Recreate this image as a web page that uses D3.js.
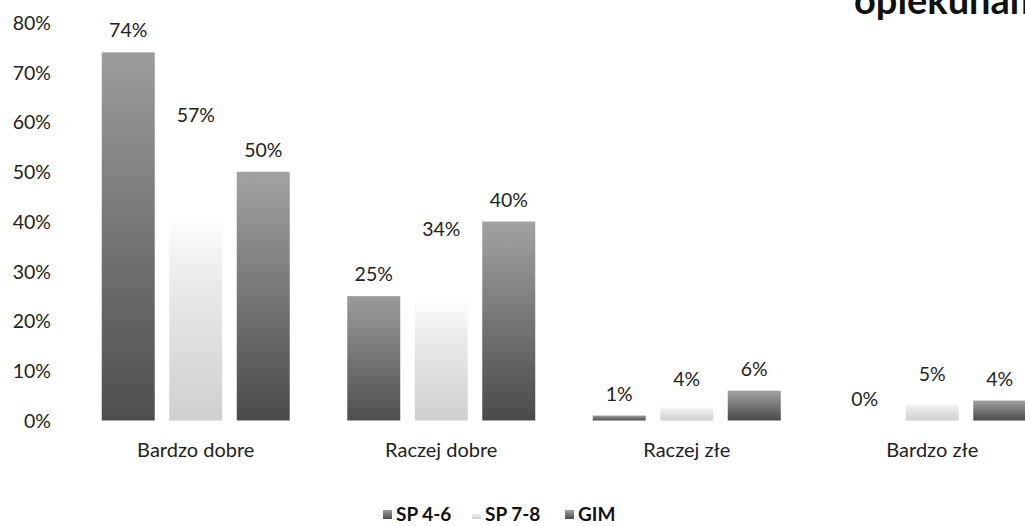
<!DOCTYPE html>
<html><head><meta charset="utf-8">
<script src="https://cdn.jsdelivr.net/npm/d3@7"></script>
<style>html,body{margin:0;padding:0;background:#fff;overflow:hidden}svg{display:block}</style>
</head><body>
<script>
const categories = ["Bardzo dobre", "Raczej dobre", "Raczej złe", "Bardzo złe"];
const seriesNames = ["SP 4-6", "SP 7-8", "GIM"];
const sp46 = [74, 25, 1, 0];
const sp78 = [57, 34, 4, 5];
const gim = [50, 40, 6, 4];
const yTicks = [0, 10, 20, 30, 40, 50, 60, 70, 80];
const titleText = "opiekunami";

const W = 1025, H = 526;
const svg = d3.select("body").append("svg").attr("width", W).attr("height", H);
const defs = svg.append("defs");
const gradDefs = [
  {id: "g0", stops: [[0, "#4e4e4e"], [1, "#9c9c9c"]]},
  {id: "g1", stops: [[0, "#cfcfcf"], [0.5, "#ebebeb"], [0.72, "#ffffff"], [1, "#ffffff"]]},
  {id: "g2", stops: [[0, "#4a4a4a"], [1, "#a2a2a2"]]}
];
gradDefs.forEach(g => {
  const lg = defs.append("linearGradient").attr("id", g.id)
    .attr("x1", 0).attr("y1", 1).attr("x2", 0).attr("y2", 0);
  g.stops.forEach(s => lg.append("stop").attr("offset", s[0]).attr("stop-color", s[1]));
});

const font = "Lato, 'Open Sans', sans-serif";
const x0 = d3.scaleBand().domain(categories).range([73, 1055]).padding(0);
const x1 = d3.scaleBand().domain(seriesNames).range([0, x0.bandwidth()])
  .paddingInner(0.215).paddingOuter(0.426);
const y = d3.scaleLinear().domain([0, 80]).range([420.5, 22.5]);

// y axis labels
const yAxis = d3.axisLeft(y).tickValues(yTicks).tickFormat(d => d + "%").tickSize(0).tickPadding(0);
const ya = svg.append("g").attr("transform", "translate(51,0)").call(yAxis);
ya.select(".domain").remove();
ya.selectAll("text").attr("font-family", font).attr("font-size", 19.5).attr("fill", "#222").attr("dy", "0.35em");

// x axis labels
const xAxis = d3.axisBottom(x0).tickSize(0).tickPadding(0);
const xa = svg.append("g").attr("transform", "translate(0,457)").call(xAxis);
xa.select(".domain").remove();
xa.selectAll("text").attr("font-family", font).attr("font-size", 20).attr("fill", "#222").attr("dy", "0");

const series = [sp46, sp78, gim];
const data = [];
categories.forEach((c, i) => seriesNames.forEach((s, j) => data.push({c, s, j, v: series[j][i]})));

svg.append("g").selectAll("rect").data(data).join("rect")
  .attr("x", d => x0(d.c) + x1(d.s))
  .attr("width", x1.bandwidth())
  .attr("y", d => y(d.v))
  .attr("height", d => y(0) - y(d.v))
  .attr("fill", d => `url(#g${d.j})`);

svg.append("g").selectAll("text").data(data).join("text")
  .attr("x", d => x0(d.c) + x1(d.s) + x1.bandwidth() / 2)
  .attr("y", d => y(d.v) - 15)
  .attr("text-anchor", "middle")
  .attr("font-family", font).attr("font-size", 19.5).attr("fill", "#222")
  .text(d => d.v + "%");

// title (cut off at right edge)
svg.append("text").attr("x", 854).attr("y", 14)
  .attr("font-family", font).attr("font-weight", "bold").attr("font-size", 38).attr("fill", "#111")
  .text(titleText);

// legend
const legendX = [396, 485, 578];
const lg = svg.append("g");
seriesNames.forEach((s, j) => {
  lg.append("rect").attr("x", legendX[j] - 13).attr("y", 510).attr("width", 9).attr("height", 9)
    .attr("fill", `url(#g${j})`);
  lg.append("text").attr("x", legendX[j]).attr("y", 521)
    .attr("font-family", font).attr("font-weight", "bold").attr("font-size", 19).attr("fill", "#111")
    .text(s);
});
</script>
</body></html>
